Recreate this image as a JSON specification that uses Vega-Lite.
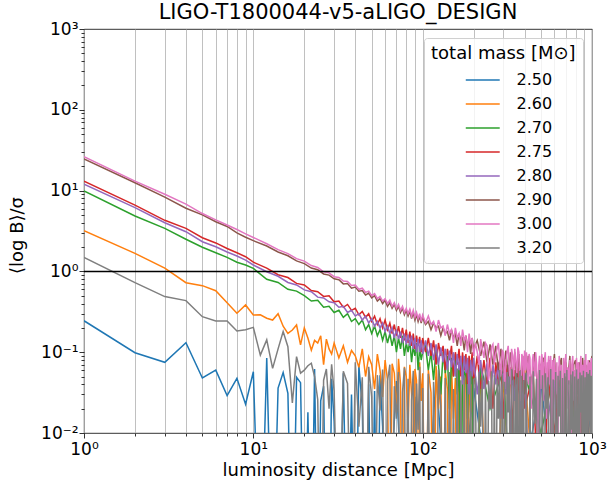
{
"$schema": "https://vega.github.io/schema/vega-lite/v6.json",
"width": 508, "height": 404,
"autosize": {"type": "none"},
"padding": {"left": 84, "top": 29, "right": 21, "bottom": 50},
"title": {"text": "LIGO-T1800044-v5-aLIGO_DESIGN", "fontSize": 21, "font": "DejaVu Sans", "fontWeight": "normal", "color": "black", "anchor": "middle", "frame": "group", "baseline": "alphabetic", "offset": -20},
"config": {"view": {"stroke": "black", "strokeWidth": 0.8}, "font": "DejaVu Sans"},
"datasets": {
"b": [{"d":1,"v":0.245},{"d":2,"v":0.0986},{"d":3,"v":0.075},{"d":4,"v":0.131},{"d":5,"v":0.048},{"d":6,"v":0.06},{"d":7,"v":0.029},{"d":8,"v":0.0475},{"d":9,"v":0.0227},{"d":10,"v":0.0573},{"d":11,"v":0.0001},{"d":12,"v":0.085},{"d":13,"v":0.0001},{"d":14,"v":0.036},{"d":15,"v":0.056},{"d":16,"v":0.031},{"d":17,"v":0.0001},{"d":18,"v":0.049},{"d":19,"v":0.042},{"d":20,"v":0.0001},{"d":21,"v":0.018},{"d":22,"v":0.0001},{"d":23,"v":0.062},{"d":24,"v":0.0001},{"d":25,"v":0.025},{"d":26,"v":0.038},{"d":27,"v":0.0001},{"d":28,"v":0.0001},{"d":29,"v":0.047},{"d":30,"v":0.014},{"d":32,"v":0.0001},{"d":34,"v":0.055},{"d":36,"v":0.0001},{"d":38,"v":0.03},{"d":40,"v":0.0001},{"d":42,"v":0.068},{"d":44,"v":0.021},{"d":46,"v":0.0001},{"d":48,"v":0.04},{"d":50,"v":0.0001},{"d":52,"v":0.033},{"d":54,"v":0.0001},{"d":56,"v":0.052},{"d":58,"v":0.012},{"d":60,"v":0.0001},{"d":70,"v":0.044},{"d":80,"v":0.0001},{"d":90,"v":0.028},{"d":100,"v":0.0001},{"d":120,"v":0.05},{"d":150,"v":0.0001},{"d":200,"v":0.036},{"d":300,"v":0.0001},{"d":500,"v":0.041},{"d":700,"v":0.0001},{"d":1000,"v":0.022}],
"o": [{"d":1,"v":3.19},{"d":2,"v":1.67},{"d":3,"v":1.1},{"d":4,"v":0.725},{"d":5,"v":0.666},{"d":6,"v":0.577},{"d":7,"v":0.41},{"d":8,"v":0.303},{"d":9,"v":0.384},{"d":10,"v":0.289},{"d":11,"v":0.29},{"d":12,"v":0.263},{"d":13,"v":0.25},{"d":14,"v":0.3},{"d":15,"v":0.21},{"d":16,"v":0.171},{"d":17,"v":0.188},{"d":18,"v":0.217},{"d":19,"v":0.123},{"d":20,"v":0.2},{"d":21,"v":0.15},{"d":22,"v":0.106},{"d":23,"v":0.14},{"d":24,"v":0.13},{"d":25,"v":0.16},{"d":26,"v":0.07},{"d":27,"v":0.145},{"d":28,"v":0.11},{"d":29,"v":0.095},{"d":30,"v":0.13},{"d":32,"v":0.085},{"d":34,"v":0.12},{"d":36,"v":0.075},{"d":38,"v":0.105},{"d":40,"v":0.09},{"d":42,"v":0.065},{"d":44,"v":0.11},{"d":46,"v":0.05},{"d":48,"v":0.088},{"d":50,"v":0.07},{"d":52,"v":0.035},{"d":54,"v":0.095},{"d":56,"v":0.06},{"d":58,"v":0.028},{"d":60,"v":0.08},{"d":62,"v":0.045},{"d":64,"v":0.0001},{"d":66,"v":0.072},{"d":68,"v":0.055},{"d":70,"v":0.018},{"d":72,"v":0.083},{"d":74,"v":0.04},{"d":76,"v":0.0001},{"d":78,"v":0.066},{"d":80,"v":0.05},{"d":82,"v":0.012},{"d":84,"v":0.07},{"d":86,"v":0.03},{"d":88,"v":0.0001},{"d":90,"v":0.062},{"d":92,"v":0.045},{"d":94,"v":0.0001},{"d":96,"v":0.075},{"d":98,"v":0.025},{"d":100,"v":0.055},{"d":104,"v":0.0001},{"d":108,"v":0.06},{"d":112,"v":0.032},{"d":116,"v":0.0001},{"d":120,"v":0.068},{"d":124,"v":0.02},{"d":128,"v":0.05},{"d":132,"v":0.0001},{"d":136,"v":0.058},{"d":140,"v":0.035},{"d":144,"v":0.0001},{"d":148,"v":0.065},{"d":152,"v":0.015},{"d":156,"v":0.048},{"d":160,"v":0.0001},{"d":164,"v":0.06},{"d":168,"v":0.028},{"d":172,"v":0.0001},{"d":176,"v":0.055},{"d":180,"v":0.04},{"d":184,"v":0.0001},{"d":188,"v":0.062},{"d":192,"v":0.018},{"d":196,"v":0.05},{"d":200,"v":0.0001},{"d":220,"v":0.057},{"d":250,"v":0.0001},{"d":300,"v":0.048},{"d":350,"v":0.0001},{"d":400,"v":0.06},{"d":500,"v":0.0001},{"d":600,"v":0.045},{"d":700,"v":0.0001},{"d":800,"v":0.055},{"d":900,"v":0.0001},{"d":1000,"v":0.04}],
"g": [{"d":1,"v":9.9},{"d":2,"v":4.85},{"d":3,"v":3.41},{"d":4,"v":2.5},{"d":5,"v":1.99},{"d":6,"v":1.7},{"d":7,"v":1.49},{"d":8,"v":1.3},{"d":9,"v":1.2},{"d":10,"v":1.09},{"d":12,"v":0.8},{"d":14,"v":0.73},{"d":16,"v":0.6},{"d":18,"v":0.57},{"d":20,"v":0.5},{"d":22,"v":0.43},{"d":24,"v":0.44},{"d":26,"v":0.36},{"d":28,"v":0.37},{"d":30,"v":0.31},{"d":32,"v":0.33},{"d":34,"v":0.27},{"d":36,"v":0.3},{"d":38,"v":0.24},{"d":40,"v":0.26},{"d":42,"v":0.22},{"d":44,"v":0.25},{"d":46,"v":0.19},{"d":48,"v":0.22},{"d":50,"v":0.17},{"d":52,"v":0.21},{"d":54,"v":0.16},{"d":56,"v":0.19},{"d":58,"v":0.14},{"d":60,"v":0.18},{"d":62,"v":0.13},{"d":64,"v":0.17},{"d":66,"v":0.12},{"d":68,"v":0.16},{"d":70,"v":0.1},{"d":72,"v":0.15},{"d":74,"v":0.11},{"d":76,"v":0.16},{"d":78,"v":0.09},{"d":80,"v":0.13},{"d":82,"v":0.1},{"d":84,"v":0.14},{"d":86,"v":0.075},{"d":88,"v":0.12},{"d":90,"v":0.09},{"d":92,"v":0.13},{"d":94,"v":0.06},{"d":96,"v":0.115},{"d":98,"v":0.08},{"d":100,"v":0.1},{"d":104,"v":0.12},{"d":108,"v":0.06},{"d":112,"v":0.1},{"d":116,"v":0.045},{"d":120,"v":0.11},{"d":124,"v":0.07},{"d":128,"v":0.03},{"d":132,"v":0.1},{"d":136,"v":0.055},{"d":140,"v":0.09},{"d":144,"v":0.02},{"d":148,"v":0.085},{"d":152,"v":0.05},{"d":156,"v":0.095},{"d":160,"v":0.03},{"d":164,"v":0.075},{"d":168,"v":0.0001},{"d":172,"v":0.08},{"d":176,"v":0.045},{"d":180,"v":0.07},{"d":184,"v":0.015},{"d":188,"v":0.085},{"d":192,"v":0.04},{"d":196,"v":0.065},{"d":200,"v":0.0001},{"d":220,"v":0.07},{"d":250,"v":0.02},{"d":300,"v":0.06},{"d":350,"v":0.0001},{"d":400,"v":0.055},{"d":500,"v":0.01},{"d":600,"v":0.06},{"d":700,"v":0.0001},{"d":800,"v":0.05},{"d":900,"v":0.02},{"d":1000,"v":0.045}],
"r": [{"d":1,"v":13.1},{"d":2,"v":6.6},{"d":3,"v":4.29},{"d":4,"v":3.41},{"d":5,"v":2.61},{"d":6,"v":2.25},{"d":7,"v":1.92},{"d":8,"v":1.7},{"d":9,"v":1.52},{"d":10,"v":1.3},{"d":12,"v":1.1},{"d":14,"v":0.91},{"d":16,"v":0.84},{"d":18,"v":0.71},{"d":20,"v":0.68},{"d":22,"v":0.58},{"d":24,"v":0.56},{"d":26,"v":0.49},{"d":28,"v":0.5},{"d":30,"v":0.42},{"d":32,"v":0.43},{"d":34,"v":0.36},{"d":36,"v":0.39},{"d":38,"v":0.33},{"d":40,"v":0.35},{"d":42,"v":0.29},{"d":44,"v":0.32},{"d":46,"v":0.27},{"d":48,"v":0.3},{"d":50,"v":0.24},{"d":52,"v":0.28},{"d":54,"v":0.22},{"d":56,"v":0.26},{"d":58,"v":0.2},{"d":60,"v":0.25},{"d":62,"v":0.19},{"d":64,"v":0.23},{"d":66,"v":0.17},{"d":68,"v":0.22},{"d":70,"v":0.16},{"d":72,"v":0.21},{"d":74,"v":0.15},{"d":76,"v":0.2},{"d":78,"v":0.14},{"d":80,"v":0.19},{"d":82,"v":0.13},{"d":84,"v":0.18},{"d":86,"v":0.12},{"d":88,"v":0.17},{"d":90,"v":0.11},{"d":92,"v":0.16},{"d":94,"v":0.12},{"d":96,"v":0.155},{"d":98,"v":0.1},{"d":100,"v":0.15},{"d":104,"v":0.1},{"d":108,"v":0.15},{"d":112,"v":0.09},{"d":116,"v":0.14},{"d":120,"v":0.07},{"d":124,"v":0.13},{"d":128,"v":0.09},{"d":132,"v":0.12},{"d":136,"v":0.06},{"d":140,"v":0.11},{"d":144,"v":0.08},{"d":148,"v":0.12},{"d":152,"v":0.05},{"d":156,"v":0.1},{"d":160,"v":0.07},{"d":164,"v":0.11},{"d":168,"v":0.05},{"d":172,"v":0.1},{"d":176,"v":0.06},{"d":180,"v":0.095},{"d":184,"v":0.04},{"d":188,"v":0.09},{"d":192,"v":0.06},{"d":196,"v":0.1},{"d":200,"v":0.04},{"d":210,"v":0.09},{"d":220,"v":0.035},{"d":230,"v":0.08},{"d":240,"v":0.04},{"d":250,"v":0.085},{"d":260,"v":0.02},{"d":270,"v":0.075},{"d":280,"v":0.04},{"d":290,"v":0.07},{"d":300,"v":0.015},{"d":310,"v":0.07},{"d":320,"v":0.03},{"d":330,"v":0.065},{"d":340,"v":0.01},{"d":350,"v":0.06},{"d":360,"v":0.025},{"d":370,"v":0.065},{"d":380,"v":0.0001},{"d":390,"v":0.06},{"d":400,"v":0.02},{"d":450,"v":0.055},{"d":500,"v":0.0001},{"d":550,"v":0.05},{"d":600,"v":0.01},{"d":650,"v":0.055},{"d":700,"v":0.0001},{"d":750,"v":0.045},{"d":800,"v":0.015},{"d":850,"v":0.05},{"d":900,"v":0.0001},{"d":950,"v":0.045},{"d":1000,"v":0.02}],
"p": [{"d":1,"v":12.0},{"d":2,"v":6.15},{"d":3,"v":4.0},{"d":4,"v":3.1},{"d":5,"v":2.33},{"d":6,"v":2.02},{"d":7,"v":1.74},{"d":8,"v":1.55},{"d":9,"v":1.38},{"d":10,"v":1.2},{"d":12,"v":0.99},{"d":14,"v":0.87},{"d":16,"v":0.73},{"d":18,"v":0.68},{"d":20,"v":0.59},{"d":22,"v":0.56},{"d":24,"v":0.48},{"d":26,"v":0.47},{"d":28,"v":0.42},{"d":30,"v":0.41},{"d":32,"v":0.36},{"d":34,"v":0.37},{"d":36,"v":0.31},{"d":38,"v":0.33},{"d":40,"v":0.28},{"d":42,"v":0.3},{"d":44,"v":0.25},{"d":46,"v":0.28},{"d":48,"v":0.23},{"d":50,"v":0.26},{"d":52,"v":0.21},{"d":54,"v":0.24},{"d":56,"v":0.2},{"d":58,"v":0.23},{"d":60,"v":0.18},{"d":62,"v":0.21},{"d":64,"v":0.17},{"d":66,"v":0.2},{"d":68,"v":0.15},{"d":70,"v":0.19},{"d":72,"v":0.145},{"d":74,"v":0.18},{"d":76,"v":0.13},{"d":78,"v":0.17},{"d":80,"v":0.125},{"d":82,"v":0.165},{"d":84,"v":0.12},{"d":86,"v":0.16},{"d":88,"v":0.11},{"d":90,"v":0.15},{"d":92,"v":0.1},{"d":94,"v":0.145},{"d":96,"v":0.1},{"d":98,"v":0.14},{"d":100,"v":0.095},{"d":104,"v":0.14},{"d":108,"v":0.09},{"d":112,"v":0.13},{"d":116,"v":0.08},{"d":120,"v":0.125},{"d":124,"v":0.07},{"d":128,"v":0.115},{"d":132,"v":0.075},{"d":136,"v":0.11},{"d":140,"v":0.06},{"d":144,"v":0.105},{"d":148,"v":0.065},{"d":152,"v":0.1},{"d":156,"v":0.05},{"d":160,"v":0.095},{"d":164,"v":0.06},{"d":168,"v":0.09},{"d":172,"v":0.04},{"d":176,"v":0.09},{"d":180,"v":0.055},{"d":184,"v":0.085},{"d":188,"v":0.03},{"d":192,"v":0.08},{"d":196,"v":0.05},{"d":200,"v":0.085},{"d":210,"v":0.03},{"d":220,"v":0.08},{"d":230,"v":0.035},{"d":240,"v":0.075},{"d":250,"v":0.02},{"d":260,"v":0.07},{"d":270,"v":0.04},{"d":280,"v":0.075},{"d":290,"v":0.015},{"d":300,"v":0.065},{"d":310,"v":0.03},{"d":320,"v":0.07},{"d":330,"v":0.01},{"d":340,"v":0.06},{"d":350,"v":0.025},{"d":360,"v":0.065},{"d":370,"v":0.0001},{"d":380,"v":0.06},{"d":390,"v":0.02},{"d":400,"v":0.055},{"d":450,"v":0.0001},{"d":500,"v":0.05},{"d":550,"v":0.015},{"d":600,"v":0.055},{"d":650,"v":0.0001},{"d":700,"v":0.045},{"d":750,"v":0.02},{"d":800,"v":0.05},{"d":850,"v":0.0001},{"d":900,"v":0.045},{"d":950,"v":0.015},{"d":1000,"v":0.04}],
"n": [{"d":1,"v":24.6},{"d":2,"v":12.5},{"d":3,"v":8.3},{"d":4,"v":6.05},{"d":5,"v":5.0},{"d":6,"v":4.12},{"d":7,"v":3.6},{"d":8,"v":3.0},{"d":9,"v":2.65},{"d":10,"v":2.4},{"d":12,"v":2.06},{"d":14,"v":1.74},{"d":16,"v":1.56},{"d":18,"v":1.35},{"d":20,"v":1.25},{"d":22,"v":1.1},{"d":24,"v":1.05},{"d":26,"v":0.93},{"d":28,"v":0.9},{"d":30,"v":0.81},{"d":32,"v":0.79},{"d":34,"v":0.7},{"d":36,"v":0.71},{"d":38,"v":0.62},{"d":40,"v":0.64},{"d":42,"v":0.57},{"d":44,"v":0.58},{"d":46,"v":0.51},{"d":48,"v":0.54},{"d":50,"v":0.47},{"d":52,"v":0.5},{"d":54,"v":0.43},{"d":56,"v":0.46},{"d":58,"v":0.4},{"d":60,"v":0.44},{"d":62,"v":0.37},{"d":64,"v":0.41},{"d":66,"v":0.35},{"d":68,"v":0.39},{"d":70,"v":0.33},{"d":72,"v":0.37},{"d":74,"v":0.31},{"d":76,"v":0.35},{"d":78,"v":0.29},{"d":80,"v":0.33},{"d":82,"v":0.28},{"d":84,"v":0.32},{"d":86,"v":0.26},{"d":88,"v":0.31},{"d":90,"v":0.25},{"d":92,"v":0.29},{"d":94,"v":0.24},{"d":96,"v":0.28},{"d":98,"v":0.23},{"d":100,"v":0.27},{"d":104,"v":0.22},{"d":108,"v":0.24},{"d":112,"v":0.19},{"d":116,"v":0.23},{"d":120,"v":0.2},{"d":124,"v":0.21},{"d":128,"v":0.16},{"d":132,"v":0.2},{"d":136,"v":0.17},{"d":140,"v":0.18},{"d":144,"v":0.14},{"d":148,"v":0.19},{"d":152,"v":0.15},{"d":156,"v":0.17},{"d":160,"v":0.12},{"d":164,"v":0.17},{"d":168,"v":0.14},{"d":172,"v":0.15},{"d":176,"v":0.105},{"d":180,"v":0.16},{"d":184,"v":0.12},{"d":188,"v":0.14},{"d":192,"v":0.095},{"d":196,"v":0.15},{"d":200,"v":0.11},{"d":210,"v":0.14},{"d":220,"v":0.09},{"d":230,"v":0.135},{"d":240,"v":0.075},{"d":250,"v":0.125},{"d":260,"v":0.07},{"d":270,"v":0.12},{"d":280,"v":0.06},{"d":290,"v":0.11},{"d":300,"v":0.055},{"d":310,"v":0.105},{"d":320,"v":0.05},{"d":330,"v":0.1},{"d":340,"v":0.045},{"d":350,"v":0.1},{"d":360,"v":0.04},{"d":370,"v":0.095},{"d":380,"v":0.035},{"d":390,"v":0.09},{"d":400,"v":0.03},{"d":420,"v":0.09},{"d":440,"v":0.04},{"d":460,"v":0.1},{"d":480,"v":0.03},{"d":500,"v":0.07},{"d":520,"v":0.085},{"d":540,"v":0.015},{"d":560,"v":0.08},{"d":580,"v":0.05},{"d":600,"v":0.095},{"d":620,"v":0.02},{"d":640,"v":0.065},{"d":660,"v":0.085},{"d":680,"v":0.0001},{"d":700,"v":0.075},{"d":720,"v":0.045},{"d":740,"v":0.09},{"d":760,"v":0.01},{"d":780,"v":0.07},{"d":800,"v":0.08},{"d":820,"v":0.03},{"d":840,"v":0.075},{"d":860,"v":0.0001},{"d":880,"v":0.085},{"d":900,"v":0.05},{"d":920,"v":0.07},{"d":940,"v":0.005},{"d":960,"v":0.08},{"d":980,"v":0.06},{"d":1000,"v":0.09}],
"k": [{"d":1,"v":26.3},{"d":2,"v":13.1},{"d":3,"v":9.0},{"d":4,"v":6.8},{"d":5,"v":5.2},{"d":6,"v":4.35},{"d":7,"v":3.75},{"d":8,"v":3.3},{"d":9,"v":2.92},{"d":10,"v":2.63},{"d":12,"v":2.2},{"d":14,"v":1.86},{"d":16,"v":1.66},{"d":18,"v":1.44},{"d":20,"v":1.34},{"d":22,"v":1.18},{"d":24,"v":1.12},{"d":26,"v":0.99},{"d":28,"v":0.96},{"d":30,"v":0.86},{"d":32,"v":0.84},{"d":34,"v":0.76},{"d":36,"v":0.75},{"d":38,"v":0.67},{"d":40,"v":0.68},{"d":42,"v":0.6},{"d":44,"v":0.62},{"d":46,"v":0.55},{"d":48,"v":0.57},{"d":50,"v":0.5},{"d":52,"v":0.53},{"d":54,"v":0.46},{"d":56,"v":0.49},{"d":58,"v":0.43},{"d":60,"v":0.46},{"d":62,"v":0.4},{"d":64,"v":0.44},{"d":66,"v":0.37},{"d":68,"v":0.41},{"d":70,"v":0.35},{"d":72,"v":0.39},{"d":74,"v":0.33},{"d":76,"v":0.37},{"d":78,"v":0.31},{"d":80,"v":0.35},{"d":82,"v":0.3},{"d":84,"v":0.34},{"d":86,"v":0.28},{"d":88,"v":0.33},{"d":90,"v":0.27},{"d":92,"v":0.31},{"d":94,"v":0.26},{"d":96,"v":0.3},{"d":98,"v":0.24},{"d":100,"v":0.29},{"d":104,"v":0.23},{"d":108,"v":0.28},{"d":112,"v":0.22},{"d":116,"v":0.24},{"d":120,"v":0.18},{"d":124,"v":0.25},{"d":128,"v":0.2},{"d":132,"v":0.21},{"d":136,"v":0.16},{"d":140,"v":0.22},{"d":144,"v":0.17},{"d":148,"v":0.19},{"d":152,"v":0.13},{"d":156,"v":0.2},{"d":160,"v":0.15},{"d":164,"v":0.17},{"d":168,"v":0.12},{"d":172,"v":0.19},{"d":176,"v":0.14},{"d":180,"v":0.16},{"d":184,"v":0.1},{"d":188,"v":0.17},{"d":192,"v":0.125},{"d":196,"v":0.15},{"d":200,"v":0.09},{"d":205,"v":0.13},{"d":210,"v":0.1},{"d":215,"v":0.07},{"d":220,"v":0.145},{"d":225,"v":0.11},{"d":230,"v":0.085},{"d":235,"v":0.13},{"d":240,"v":0.12},{"d":245,"v":0.045},{"d":250,"v":0.06},{"d":255,"v":0.115},{"d":260,"v":0.125},{"d":265,"v":0.07},{"d":270,"v":0.095},{"d":275,"v":0.11},{"d":280,"v":0.13},{"d":285,"v":0.08},{"d":290,"v":0.05},{"d":295,"v":0.105},{"d":300,"v":0.1},{"d":305,"v":0.035},{"d":310,"v":0.075},{"d":315,"v":0.1},{"d":320,"v":0.12},{"d":325,"v":0.06},{"d":330,"v":0.04},{"d":335,"v":0.11},{"d":340,"v":0.09},{"d":345,"v":0.05},{"d":350,"v":0.11},{"d":355,"v":0.075},{"d":360,"v":0.055},{"d":365,"v":0.115},{"d":370,"v":0.1},{"d":375,"v":0.025},{"d":380,"v":0.03},{"d":385,"v":0.095},{"d":390,"v":0.085},{"d":395,"v":0.045},{"d":400,"v":0.105},{"d":405,"v":0.06},{"d":410,"v":0.1},{"d":415,"v":0.07},{"d":420,"v":0.04},{"d":425,"v":0.095},{"d":430,"v":0.085},{"d":435,"v":0.03},{"d":440,"v":0.02},{"d":445,"v":0.08},{"d":450,"v":0.095},{"d":455,"v":0.06},{"d":460,"v":0.05},{"d":465,"v":0.1},{"d":470,"v":0.075},{"d":475,"v":0.04},{"d":480,"v":0.01},{"d":485,"v":0.07},{"d":490,"v":0.09},{"d":495,"v":0.055},{"d":500,"v":0.035},{"d":505,"v":0.095},{"d":510,"v":0.08},{"d":515,"v":0.025},{"d":520,"v":0.06},{"d":525,"v":0.085},{"d":530,"v":0.1},{"d":535,"v":0.05},{"d":540,"v":0.015},{"d":545,"v":0.075},{"d":550,"v":0.07},{"d":555,"v":0.09},{"d":560,"v":0.04},{"d":565,"v":0.065},{"d":570,"v":0.09},{"d":575,"v":0.035},{"d":580,"v":0.005},{"d":585,"v":0.08},{"d":590,"v":0.065},{"d":595,"v":0.045},{"d":600,"v":0.085},{"d":610,"v":0.03},{"d":620,"v":0.075},{"d":630,"v":0.01},{"d":640,"v":0.09},{"d":650,"v":0.045},{"d":660,"v":0.07},{"d":670,"v":0.0001},{"d":680,"v":0.085},{"d":690,"v":0.05},{"d":700,"v":0.095},{"d":710,"v":0.02},{"d":720,"v":0.065},{"d":730,"v":0.04},{"d":740,"v":0.08},{"d":750,"v":0.0001},{"d":760,"v":0.07},{"d":770,"v":0.09},{"d":780,"v":0.025},{"d":790,"v":0.06},{"d":800,"v":0.01},{"d":810,"v":0.085},{"d":820,"v":0.045},{"d":830,"v":0.075},{"d":840,"v":0.0001},{"d":850,"v":0.065},{"d":860,"v":0.09},{"d":870,"v":0.03},{"d":880,"v":0.07},{"d":890,"v":0.015},{"d":900,"v":0.08},{"d":910,"v":0.05},{"d":920,"v":0.095},{"d":930,"v":0.0001},{"d":940,"v":0.06},{"d":950,"v":0.08},{"d":960,"v":0.02},{"d":970,"v":0.075},{"d":980,"v":0.04},{"d":990,"v":0.085},{"d":1000,"v":0.01}],
"y": [{"d":1,"v":1.49},{"d":2,"v":0.725},{"d":3,"v":0.488},{"d":4,"v":0.435},{"d":5,"v":0.275},{"d":6,"v":0.244},{"d":7,"v":0.244},{"d":8,"v":0.183},{"d":9,"v":0.19},{"d":10,"v":0.203},{"d":11,"v":0.092},{"d":12,"v":0.142},{"d":13,"v":0.063},{"d":14,"v":0.11},{"d":15,"v":0.18},{"d":16,"v":0.117},{"d":17,"v":0.0235},{"d":18,"v":0.088},{"d":19,"v":0.055},{"d":20,"v":0.06},{"d":21,"v":0.068},{"d":22,"v":0.073},{"d":23,"v":0.05},{"d":24,"v":0.026},{"d":25,"v":0.0001},{"d":26,"v":0.045},{"d":27,"v":0.062},{"d":28,"v":0.02},{"d":29,"v":0.071},{"d":30,"v":0.033},{"d":32,"v":0.0001},{"d":34,"v":0.058},{"d":36,"v":0.041},{"d":38,"v":0.0001},{"d":40,"v":0.075},{"d":42,"v":0.012},{"d":44,"v":0.049},{"d":46,"v":0.0001},{"d":48,"v":0.066},{"d":50,"v":0.028},{"d":52,"v":0.0001},{"d":54,"v":0.052},{"d":56,"v":0.019},{"d":58,"v":0.061},{"d":60,"v":0.0001},{"d":62,"v":0.044},{"d":64,"v":0.07},{"d":66,"v":0.0001},{"d":68,"v":0.038},{"d":70,"v":0.015},{"d":72,"v":0.057},{"d":74,"v":0.0001},{"d":76,"v":0.032},{"d":78,"v":0.064},{"d":80,"v":0.0001},{"d":82,"v":0.047},{"d":84,"v":0.0001},{"d":86,"v":0.025},{"d":88,"v":0.059},{"d":90,"v":0.0001},{"d":92,"v":0.041},{"d":94,"v":0.011},{"d":96,"v":0.066},{"d":98,"v":0.0001},{"d":100,"v":0.036},{"d":104,"v":0.0001},{"d":108,"v":0.054},{"d":112,"v":0.0001},{"d":116,"v":0.043},{"d":120,"v":0.0001},{"d":124,"v":0.061},{"d":128,"v":0.021},{"d":132,"v":0.0001},{"d":136,"v":0.048},{"d":140,"v":0.0001},{"d":144,"v":0.057},{"d":148,"v":0.0001},{"d":152,"v":0.035},{"d":156,"v":0.0001},{"d":160,"v":0.063},{"d":164,"v":0.0001},{"d":168,"v":0.045},{"d":172,"v":0.0001},{"d":176,"v":0.052},{"d":180,"v":0.0001},{"d":184,"v":0.04},{"d":188,"v":0.0001},{"d":192,"v":0.058},{"d":196,"v":0.0001},{"d":200,"v":0.046},{"d":205,"v":0.048},{"d":210,"v":0.0001},{"d":215,"v":0.057},{"d":220,"v":0.012},{"d":225,"v":0.05},{"d":230,"v":0.0001},{"d":235,"v":0.061},{"d":240,"v":0.0001},{"d":245,"v":0.044},{"d":250,"v":0.02},{"d":255,"v":0.058},{"d":260,"v":0.0001},{"d":265,"v":0.052},{"d":270,"v":0.0001},{"d":275,"v":0.047},{"d":280,"v":0.015},{"d":285,"v":0.06},{"d":290,"v":0.0001},{"d":295,"v":0.053},{"d":300,"v":0.0001},{"d":305,"v":0.043},{"d":310,"v":0.0001},{"d":315,"v":0.057},{"d":320,"v":0.018},{"d":325,"v":0.05},{"d":330,"v":0.0001},{"d":335,"v":0.062},{"d":340,"v":0.0001},{"d":345,"v":0.046},{"d":350,"v":0.0001},{"d":355,"v":0.055},{"d":360,"v":0.01},{"d":365,"v":0.049},{"d":370,"v":0.0001},{"d":375,"v":0.059},{"d":380,"v":0.0001},{"d":385,"v":0.051},{"d":390,"v":0.0001},{"d":395,"v":0.045},{"d":400,"v":0.0001},{"d":410,"v":0.056},{"d":420,"v":0.0001},{"d":430,"v":0.05},{"d":440,"v":0.0001},{"d":450,"v":0.058},{"d":460,"v":0.013},{"d":470,"v":0.047},{"d":480,"v":0.0001},{"d":490,"v":0.06},{"d":500,"v":0.0001},{"d":510,"v":0.052},{"d":520,"v":0.0001},{"d":530,"v":0.055},{"d":540,"v":0.02},{"d":550,"v":0.049},{"d":560,"v":0.0001},{"d":570,"v":0.062},{"d":580,"v":0.0001},{"d":590,"v":0.046},{"d":600,"v":0.0001},{"d":610,"v":0.057},{"d":620,"v":0.0001},{"d":630,"v":0.051},{"d":640,"v":0.016},{"d":650,"v":0.059},{"d":660,"v":0.0001},{"d":670,"v":0.048},{"d":680,"v":0.0001},{"d":690,"v":0.055},{"d":700,"v":0.0001},{"d":710,"v":0.06},{"d":720,"v":0.0001},{"d":730,"v":0.045},{"d":740,"v":0.0001},{"d":750,"v":0.053},{"d":760,"v":0.011},{"d":770,"v":0.058},{"d":780,"v":0.0001},{"d":790,"v":0.05},{"d":800,"v":0.0001},{"d":810,"v":0.061},{"d":820,"v":0.0001},{"d":830,"v":0.047},{"d":840,"v":0.0001},{"d":850,"v":0.056},{"d":860,"v":0.018},{"d":870,"v":0.052},{"d":880,"v":0.0001},{"d":890,"v":0.059},{"d":900,"v":0.0001},{"d":910,"v":0.049},{"d":920,"v":0.0001},{"d":930,"v":0.057},{"d":940,"v":0.0001},{"d":950,"v":0.054},{"d":960,"v":0.014},{"d":970,"v":0.06},{"d":980,"v":0.0001},{"d":990,"v":0.051},{"d":1000,"v":0.0001}]
},
"layer": [
{"data": {"name": "b"}, "mark": {"type": "line", "strokeWidth": 1.5, "clip": true},
 "encoding": {
  "x": {"field": "d", "type": "quantitative", "title": "luminosity distance [Mpc]",
   "scale": {"type": "log", "domain": [1, 1000], "nice": false},
   "axis": {"values": [1,2,3,4,5,6,7,8,9,10,20,30,40,50,60,70,80,90,100,200,300,400,500,600,700,800,900,1000],
    "labelExpr": "datum.value == 1 ? '10⁰' : datum.value == 10 ? '10¹' : datum.value == 100 ? '10²' : datum.value == 1000 ? '10³' : ''",
    "labelOverlap": false, "labelFlush": false, "labelFontSize": 17, "labelColor": "black", "labelPadding": 3,
    "grid": true, "gridColor": "#b0b0b0", "gridWidth": 0.8, "domain": false,
    "tickColor": "black", "tickWidth": 0.8,
    "tickSize": {"condition": {"test": "datum.value == 1 || datum.value == 10 || datum.value == 100 || datum.value == 1000", "value": 5}, "value": 3},
    "titleFontSize": 18, "titleFontWeight": "normal", "titleColor": "black", "titlePadding": 4}},
  "y": {"field": "v", "type": "quantitative", "title": "⟨log B⟩/σ",
   "scale": {"type": "log", "domain": [0.01, 1000], "nice": false},
   "axis": {"values": [0.01,0.02,0.03,0.04,0.05,0.06,0.07,0.08,0.09,0.1,0.2,0.3,0.4,0.5,0.6,0.7,0.8,0.9,1,2,3,4,5,6,7,8,9,10,20,30,40,50,60,70,80,90,100,200,300,400,500,600,700,800,900,1000],
    "labelExpr": "datum.value == 0.01 ? '10⁻²' : datum.value == 0.1 ? '10⁻¹' : datum.value == 1 ? '10⁰' : datum.value == 10 ? '10¹' : datum.value == 100 ? '10²' : datum.value == 1000 ? '10³' : ''",
    "labelOverlap": false, "labelFlush": false, "labelFontSize": 17, "labelColor": "black", "labelPadding": 1,
    "grid": false, "domain": false, "tickColor": "black", "tickWidth": 0.8,
    "tickSize": {"condition": {"test": "datum.value == 0.01 || datum.value == 0.1 || datum.value == 1 || datum.value == 10 || datum.value == 100 || datum.value == 1000", "value": 5}, "value": 3},
    "titleFontSize": 18, "titleFontWeight": "normal", "titleColor": "black", "titlePadding": 14, "titleY": 206}},
  "color": {"datum": "2.50", "type": "nominal",
   "scale": {"domain": ["2.50","2.60","2.70","2.75","2.80","2.90","3.00","3.20"], "range": ["#1f77b4","#ff7f0e","#2ca02c","#d62728","#9467bd","#8c564b","#e377c2","#7f7f7f"]},
   "legend": {"title": "total mass [M⊙]", "orient": "top-right", "offset": 9, "padding": 7,
    "fillColor": "rgba(255,255,255,0.8)", "strokeColor": "#d0d0d0", "cornerRadius": 3,
    "titleFontSize": 18, "titleFontWeight": "normal", "titleColor": "black", "titlePadding": 9,
    "labelFontSize": 16, "labelColor": "black",
    "symbolType": "M-4,0H4", "symbolSize": 72, "symbolStrokeWidth": 1.5, "symbolOffset": 43.75, "labelOffset": 25.75, "rowPadding": 8}}
 }},
{"data": {"name": "o"}, "mark": {"type": "line", "strokeWidth": 1.5, "clip": true},
 "encoding": {"x": {"field": "d", "type": "quantitative", "title": "luminosity distance [Mpc]"}, "y": {"field": "v", "type": "quantitative", "title": "⟨log B⟩/σ"}, "color": {"datum": "2.60", "type": "nominal"}}},
{"data": {"name": "g"}, "mark": {"type": "line", "strokeWidth": 1.5, "clip": true},
 "encoding": {"x": {"field": "d", "type": "quantitative", "title": "luminosity distance [Mpc]"}, "y": {"field": "v", "type": "quantitative", "title": "⟨log B⟩/σ"}, "color": {"datum": "2.70", "type": "nominal"}}},
{"data": {"name": "r"}, "mark": {"type": "line", "strokeWidth": 1.5, "clip": true},
 "encoding": {"x": {"field": "d", "type": "quantitative", "title": "luminosity distance [Mpc]"}, "y": {"field": "v", "type": "quantitative", "title": "⟨log B⟩/σ"}, "color": {"datum": "2.75", "type": "nominal"}}},
{"data": {"name": "p"}, "mark": {"type": "line", "strokeWidth": 1.5, "clip": true},
 "encoding": {"x": {"field": "d", "type": "quantitative", "title": "luminosity distance [Mpc]"}, "y": {"field": "v", "type": "quantitative", "title": "⟨log B⟩/σ"}, "color": {"datum": "2.80", "type": "nominal"}}},
{"data": {"name": "n"}, "mark": {"type": "line", "strokeWidth": 1.5, "clip": true},
 "encoding": {"x": {"field": "d", "type": "quantitative", "title": "luminosity distance [Mpc]"}, "y": {"field": "v", "type": "quantitative", "title": "⟨log B⟩/σ"}, "color": {"datum": "2.90", "type": "nominal"}}},
{"data": {"name": "k"}, "mark": {"type": "line", "strokeWidth": 1.5, "clip": true},
 "encoding": {"x": {"field": "d", "type": "quantitative", "title": "luminosity distance [Mpc]"}, "y": {"field": "v", "type": "quantitative", "title": "⟨log B⟩/σ"}, "color": {"datum": "3.00", "type": "nominal"}}},
{"data": {"name": "y"}, "mark": {"type": "line", "strokeWidth": 1.5, "clip": true},
 "encoding": {"x": {"field": "d", "type": "quantitative", "title": "luminosity distance [Mpc]"}, "y": {"field": "v", "type": "quantitative", "title": "⟨log B⟩/σ"}, "color": {"datum": "3.20", "type": "nominal"}}},
{"data": {"values": [{}]}, "mark": {"type": "rule", "color": "black", "strokeWidth": 1.5},
 "encoding": {"y": {"datum": 1, "type": "quantitative"}}}
]
}
